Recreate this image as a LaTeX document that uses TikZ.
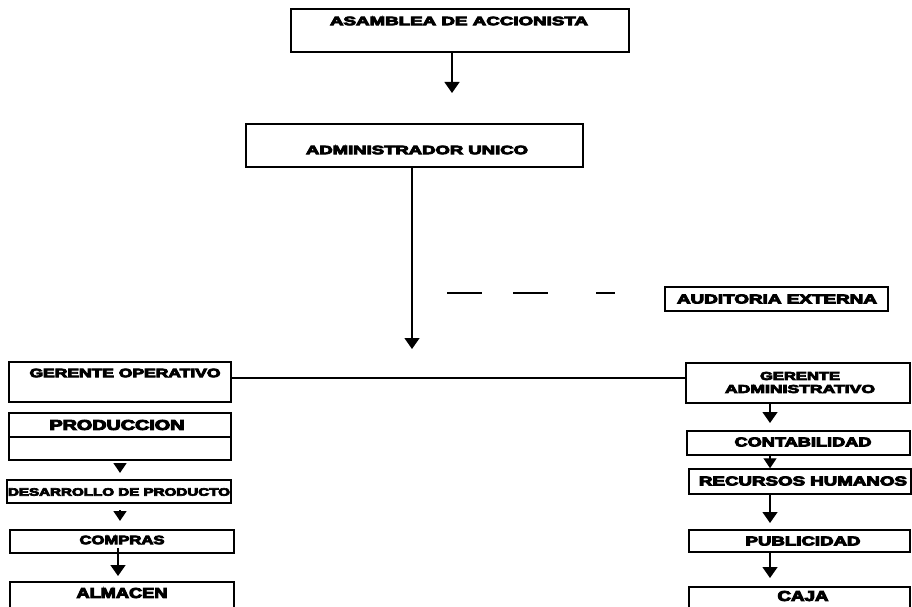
\documentclass[tikz,border=0pt]{standalone}
\usepackage{fontspec}
\setmainfont{Liberation Sans}[BoldFeatures={FakeBold=6}]
\usepackage{graphicx}
\usetikzlibrary{arrows.meta}
\newcommand\lbl[3]{\resizebox{#1pt}{#2pt}{\bfseries #3}}
\begin{document}
\begin{tikzpicture}[x=1pt,y=-1pt,
  box/.style={draw, line width=1.5pt, inner sep=0pt, fill=none},
  txt/.style={inner sep=0pt},
  arr/.style={line width=1.4pt, -{Triangle[length=11pt,width=15pt]}},
  tri/.style={line width=1.4pt, -{Triangle[length=10pt,width=13pt]}},
  conn/.style={line width=1.1pt}]
\useasboundingbox (0,0) rectangle (912,607);
% boxes
\node[box, minimum width=338pt, minimum height=43pt] (asam) at (460,30.5) {};
\node[box, minimum width=337pt, minimum height=43pt] (admin) at (414.5,145.5) {};
\node[box, minimum width=222pt, minimum height=40pt] (go) at (120,382) {};
\node[box, minimum width=222pt, minimum height=47pt] (prod) at (120,436.5) {};
\node[box, minimum width=224pt, minimum height=23pt] (des) at (119,491.5) {};
\node[box, minimum width=224pt, minimum height=23pt] (comp) at (122,541.5) {};
\node[box, minimum width=224pt, minimum height=38pt] (alm) at (122,601) {};
\node[box, minimum width=223pt, minimum height=24pt] (aud) at (776.5,299) {};
\node[box, minimum width=224pt, minimum height=40pt] (ga) at (798,383) {};
\node[box, minimum width=223pt, minimum height=24pt] (cont) at (798.5,443) {};
\node[box, minimum width=222pt, minimum height=25pt] (rh) at (800,481.5) {};
\node[box, minimum width=221pt, minimum height=22pt] (pub) at (799.5,541) {};
\node[box, minimum width=221pt, minimum height=38pt] (caja) at (799.5,606) {};
% labels
\node[txt] (asamT) at (459,21) {\lbl{258}{8.5}{ASAMBLEA DE ACCIONISTA}};
\node[txt] (adminT) at (417,150) {\lbl{222}{8.5}{ADMINISTRADOR UNICO}};
\node[txt] (goT) at (125,373) {\lbl{191}{8.5}{GERENTE OPERATIVO}};
\node[txt] (prodT) at (117,425) {\lbl{135}{10}{PRODUCCION}};
\node[txt] (desT) at (119,492) {\lbl{222}{7.5}{DESARROLLO DE PRODUCTO}};
\node[txt] (compT) at (122,540) {\lbl{85}{8.5}{COMPRAS}};
\node[txt] (almT) at (122,593) {\lbl{91}{10}{ALMACEN}};
\node[txt] (audT) at (777,299) {\lbl{200}{9}{AUDITORIA EXTERNA}};
\node[txt] (gaT1) at (800,376) {\lbl{80}{8}{GERENTE}};
\node[txt] (gaT2) at (800,389) {\lbl{150}{8}{ADMINISTRATIVO}};
\node[txt] (contT) at (803,442) {\lbl{137}{9}{CONTABILIDAD}};
\node[txt] (rhT) at (803,481) {\lbl{208}{9}{RECURSOS HUMANOS}};
\node[txt] (pubT) at (803,541) {\lbl{115}{9}{PUBLICIDAD}};
\node[txt] (cajaT) at (803,596) {\lbl{51}{10}{CAJA}};
% divider in PRODUCCION
\coordinate (pd) at (0,437);
\draw[line width=1.3pt] (prod.west |- pd) -- (prod.east |- pd);
% coordinates for free ends
\coordinate (t1) at (452,93);
\coordinate (t2) at (412,349);
\coordinate (hl) at (0,378);
\coordinate (d1) at (447,293);
\coordinate (d2) at (615,293);
\coordinate (s1) at (120,463);
\coordinate (s2) at (120,510);
\coordinate (t3) at (118,576);
\coordinate (t4) at (770,423);
\coordinate (s5) at (770,455);
\coordinate (t6) at (770,523);
\coordinate (t7) at (770,578);
% connectors
\draw[arr] (asam.south -| t1) -- (t1);
\draw[arr] (admin.south -| t2) -- (t2);
\draw[conn] (go.east |- hl) -- (ga.west |- hl);
\draw[line width=1.2pt, dash pattern=on 35pt off 31pt on 35pt off 48pt on 19pt off 200pt] (d1) -- (d2);
\draw[tri] (s1) -- ++(0,10);
\draw[tri] (s2) -- ++(0,11);
\draw[arr] (comp.south -| t3) ++(0,-6) -- (t3);
\draw[arr] (ga.south -| t4) -- (t4);
\draw[tri] (cont.south -| s5) -- (rh.north -| s5);
\draw[arr] (rh.south -| t6) -- (t6);
\draw[arr] (pub.south -| t7) -- (t7);
\end{tikzpicture}
\end{document}
